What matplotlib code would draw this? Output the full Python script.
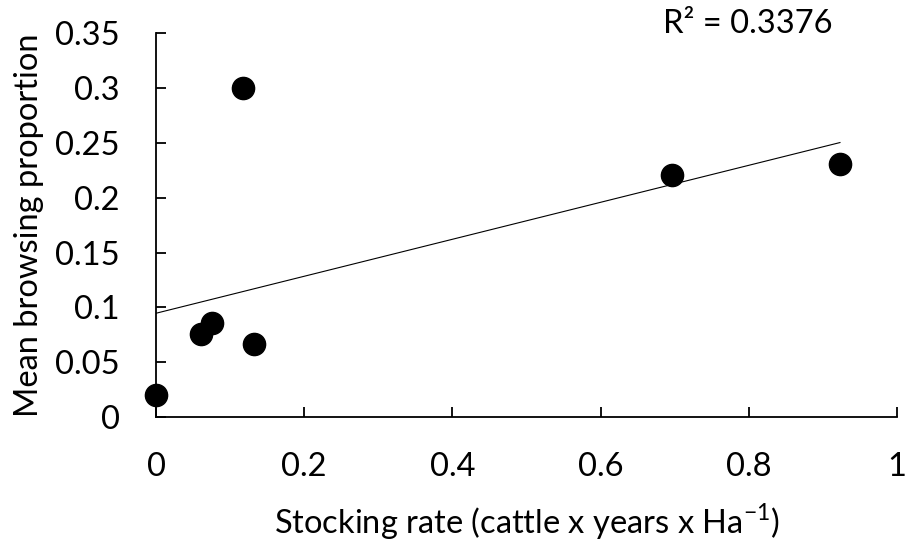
import numpy as np
import matplotlib
matplotlib.use('Agg')
import matplotlib.pyplot as plt

plt.rcParams['font.family'] = ['Lato', 'DejaVu Sans']
plt.rcParams['mathtext.fontset'] = 'custom'
plt.rcParams['mathtext.rm'] = 'Lato'

# Data
stocking_rate = [0.0, 0.061, 0.076, 0.117, 0.132, 0.696, 0.923]
browsing = [0.020, 0.076, 0.086, 0.300, 0.067, 0.221, 0.231]
x_ticks = [0, 0.2, 0.4, 0.6, 0.8, 1]
x_tick_labels = ['0', '0.2', '0.4', '0.6', '0.8', '1']
y_ticks = [0, 0.05, 0.1, 0.15, 0.2, 0.25, 0.3, 0.35]
y_tick_labels = ['0', '0.05', '0.1', '0.15', '0.2', '0.25', '0.3', '0.35']
r2_label = 'R² = 0.3376'

fs = 23.5

fig = plt.figure(figsize=(9.07, 5.43), dpi=100)
ax = fig.add_axes([0.172, 0.232, 0.817, 0.7065])

# Linear trendline over the data range
slope, intercept = np.polyfit(stocking_rate, browsing, 1)
xs = np.array([0, max(stocking_rate)])
ax.plot(xs, slope * xs + intercept, color='black', lw=0.8, zorder=2)

ax.plot(stocking_rate, browsing, 'o', color='black', markersize=16, zorder=3, clip_on=False)

ax.set_xlim(0, 1)
ax.set_ylim(0, 0.35)
ax.set_xticks(x_ticks)
ax.set_xticklabels(x_tick_labels)
ax.set_yticks(y_ticks)
ax.set_yticklabels(y_tick_labels)

for s in ['top', 'right']:
    ax.spines[s].set_visible(False)
for s in ['left', 'bottom']:
    ax.spines[s].set_linewidth(1.3)

ax.tick_params(axis='x', direction='in', length=7, width=1.3, labelsize=fs, pad=25)
ax.tick_params(axis='y', direction='in', length=7, width=1.3, labelsize=fs, pad=26)

ax.set_xlabel('Stocking rate (cattle x years x Ha$^{-1}$)', fontsize=fs)
ax.xaxis.set_label_coords(0.5, -0.305)
ax.xaxis.label.set_va('baseline')
ax.set_ylabel('Mean browsing proportion', fontsize=fs)
ax.yaxis.set_label_coords(-0.172, 0.5)
ax.yaxis.label.set_va('center')

ax.text(0.798, 1.024, r2_label, transform=ax.transAxes, ha='center', va='center', fontsize=fs)

fig.savefig('out.png', dpi=100)
